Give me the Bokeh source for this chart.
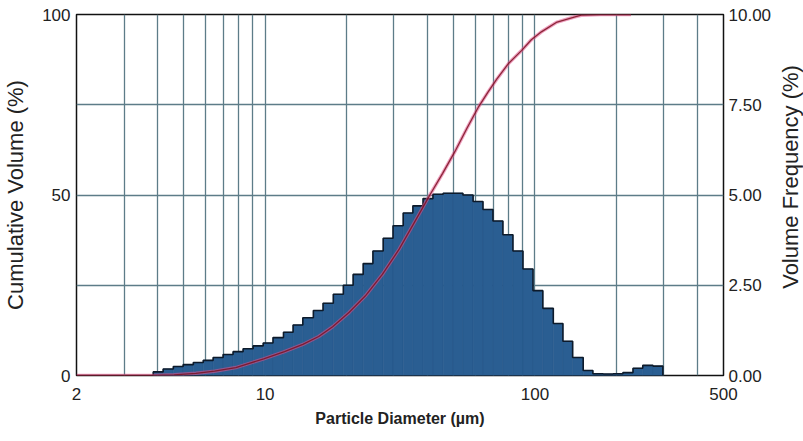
from bokeh.plotting import figure
from bokeh.layouts import row
from bokeh.models import Range1d, LinearAxis, FixedTicker, NumeralTickFormatter, ColumnDataSource, Label
from bokeh.embed import file_html
from bokeh.resources import INLINE
import numpy as np

# particle size class edges (µm)
size_edges = [3.85, 4.19, 4.57, 4.97, 5.42, 5.90, 6.42, 6.99, 7.61, 8.29, 9.03, 9.84,
              10.7, 11.7, 12.7, 13.8, 15.1, 16.4, 17.9, 19.5, 21.2, 23.1, 25.1, 27.4,
              29.8, 32.5, 35.3, 38.5, 41.9, 45.7, 49.7, 54.1, 59.0, 64.2, 69.9, 76.1,
              82.9, 90.3, 98.4, 107, 117, 127, 138, 151, 164, 179, 195, 212, 231, 251,
              274, 298]
# volume frequency per class (%)
volume_freq = [0.10, 0.18, 0.25, 0.30, 0.36, 0.42, 0.50, 0.58, 0.66, 0.74,
               0.82, 0.90, 1.05, 1.20, 1.40, 1.60, 1.80, 2.00, 2.25, 2.50,
               2.80, 3.10, 3.45, 3.80, 4.15, 4.50, 4.70, 4.90, 5.02, 5.05,
               5.05, 5.00, 4.82, 4.60, 4.28, 3.90, 3.45, 2.95, 2.35, 1.86,
               1.44, 0.95, 0.50, 0.14, 0.05, 0.04, 0.05, 0.08, 0.20, 0.28, 0.26]

# cumulative volume curve (size µm, %)
cum_sizes = [2.0, 3.85, 4.6, 5.54, 6.5, 7.79, 9.88, 11.8, 13.8, 15.8, 17.8, 20.5,
             23.5, 27.2, 31.4, 35.8, 40.8, 45.5, 50.5, 56.0, 61.9, 67.0, 72.1,
             80.0, 89.2, 97.0, 105.7, 120.0, 139.8, 148.5, 175.0, 227.0]
cum_values = [0.0, 0.0, 0.2, 0.6, 1.2, 2.2, 4.6, 6.6, 8.6, 10.8, 13.5, 17.5,
              22.0, 28.0, 35.0, 42.5, 50.0, 56.0, 62.0, 68.5, 74.5, 78.5, 82.0,
              86.5, 90.0, 93.0, 95.2, 97.8, 99.3, 99.8, 100.0, 100.0]

x_ticks = [2, 10, 100, 500]
x_grid = [3, 4, 5, 6, 7, 8, 9, 10, 20, 30, 40, 50, 60, 70, 80, 90, 100, 200, 300, 400]
cum_ticks = [0, 50, 100]
cum_grid = [0, 25, 50, 75, 100]
freq_ticks = [0, 2.5, 5, 7.5, 10]

edges = np.array(size_edges)
freq = np.array(volume_freq)

p = figure(width=777, height=441, x_axis_type="log",
           x_range=Range1d(2, 500), y_range=Range1d(0, 100),
           output_backend="svg", toolbar_location=None,
           min_border_left=73, min_border_right=54,
           min_border_top=14, min_border_bottom=66)
p.extra_y_ranges = {"freq": Range1d(0, 10)}

font = "Liberation Sans"
tick_color = "#222222"

# grids
p.xgrid.ticker = FixedTicker(ticks=x_grid)
p.ygrid.ticker = FixedTicker(ticks=cum_grid)
for g in (p.xgrid, p.ygrid):
    g.grid_line_color = "#5d7c88"
    g.grid_line_width = 1.3
    g.grid_line_alpha = 1.0

p.outline_line_color = "#111111"
p.outline_line_width = 1.5
p.background_fill_color = "white"
p.border_fill_color = "white"

# x axis
xa = p.xaxis[0]
xa.ticker = FixedTicker(ticks=x_ticks)
xa.formatter = NumeralTickFormatter(format="0")
xa.axis_label = "Particle Diameter (µm)"
xa.axis_label_text_font_size = "16px"
xa.axis_label_standoff = 7

# left axis
ya = p.yaxis[0]
ya.ticker = FixedTicker(ticks=cum_ticks)
ya.axis_label = "Cumulative Volume (%)"
ya.axis_label_text_font_size = "22px"
ya.axis_label_standoff = 11

# right axis (its title is drawn in a narrow side panel so it reads bottom-to-top)
ra = LinearAxis(y_range_name="freq", ticker=FixedTicker(ticks=freq_ticks),
                formatter=NumeralTickFormatter(format="0.00"))
p.add_layout(ra, "right")

for ax in (xa, ya, ra):
    ax.major_label_text_font = font
    ax.major_label_text_font_size = "17px"
    ax.major_label_text_color = tick_color
    ax.axis_label_text_font = font
    ax.axis_label_text_color = tick_color
    ax.axis_label_text_font_style = "normal"
    ax.major_tick_in = 0
    ax.major_tick_out = 0
    ax.minor_tick_in = 0
    ax.minor_tick_out = 0
    ax.axis_line_color = None
xa.axis_label_text_font_style = "bold"
xa.major_label_standoff = 12
ya.major_label_standoff = 6
ra.major_label_standoff = 5

# histogram bars
bars = ColumnDataSource(dict(left=edges[:-1], right=edges[1:], top=freq,
                             bottom=np.zeros_like(freq)))
p.quad(left="left", right="right", top="top", bottom="bottom", source=bars,
       y_range_name="freq", fill_color="#2a5e92", line_color="#275889", line_width=0.6)

# outline of histogram
sx = np.concatenate([[edges[0]], edges])
sy = np.concatenate([[0.0], freq, [0.0]])
p.step(sx, sy, mode="after", y_range_name="freq", line_color="#0d1a2a", line_width=1.6)

# cumulative curve
p.line(cum_sizes, cum_values, line_color="#e0508a", line_width=3.5, line_alpha=0.55)
p.line(cum_sizes, cum_values, line_color="#7a1020", line_width=1.3, line_alpha=0.85)

# side panel holding the right axis title
side = figure(width=26, height=441, x_range=Range1d(0, 1), y_range=Range1d(0, 1),
              output_backend="svg", toolbar_location=None,
              x_axis_location=None, y_axis_location=None, min_border=0)
side.grid.visible = False
side.outline_line_color = None
side.background_fill_color = "white"
side.border_fill_color = "white"
side.add_layout(Label(x=0.5, y=0.55, text="Volume Frequency (%)", angle=90,
                      angle_units="deg", text_align="center", text_baseline="middle",
                      text_font=font, text_font_size="22px", text_color=tick_color))

layout = row(p, side, spacing=0)
open("out.html", "w").write(file_html(layout, INLINE))
